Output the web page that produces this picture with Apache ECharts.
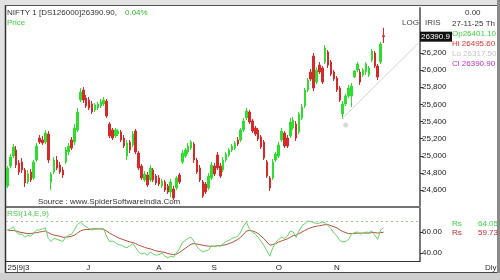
<!DOCTYPE html>
<html><head><meta charset="utf-8">
<script src="https://cdn.jsdelivr.net/npm/echarts@6/dist/echarts.min.js"></script>
<style>html,body{margin:0;padding:0;background:#fff}#c{width:500px;height:280px}</style>
</head><body><div id="c"></div>
<script>
// [open, close, low, high]
const ohlc = [
[24647,24857,24623,24880],[24880,24985,24857,25020],[24997,25102,24974,25137],[25067,24892,24857,25114],
[24915,24810,24775,24950],[24927,24833,24798,24974],[24833,24682,24635,24857],[24693,24787,24670,24833],
[24810,24717,24693,24845],[24740,24927,24717,24950],[24950,25114,24927,25149],[25207,25160,25137,25242],
[25184,25149,25125,25231],[25160,25266,25137,25301],[25254,24950,24915,25289],[24693,24787,24600,24810],
[24810,24950,24787,24985],[24950,24857,24833,24997],[24892,24810,24787,24927],[24833,24775,24740,24868],
[24927,25067,24904,25102],[25044,25114,25009,25149],[25184,25090,25067,25219],[25160,25324,25125,25371],
[25301,25511,25277,25558],[25651,25744,25628,25791],[25768,25651,25616,25803],[25674,25581,25558,25709],
[25651,25558,25534,25686],[25604,25511,25488,25639],[25534,25593,25511,25616],[25558,25604,25534,25628],
[25581,25628,25558,25663],[25604,25651,25581,25686],[25639,25464,25441,25663],[25371,25231,25207,25394],
[25301,25207,25184,25324],[25231,25301,25207,25324],[25254,25289,25231,25312],[25277,25184,25160,25301],
[25207,25114,25090,25242],[24997,25149,24950,25184],[25160,25067,25032,25184],[25125,25254,25102,25289],
[25289,25044,25020,25312],[25032,24857,24833,25055],[24880,24740,24717,24904],[24717,24787,24693,24822],
[24775,24658,24635,24810],[24717,24857,24693,24892],[24833,24717,24693,24857],[24763,24682,24658,24787],
[24740,24670,24647,24775],[24647,24705,24623,24728],[24693,24600,24577,24717],[24647,24577,24553,24670],
[24577,24693,24518,24728],[24612,24507,24483,24647],[24623,24740,24600,24763],[24775,24693,24670,24798],
[24927,25032,24904,25067],[24997,25067,24974,25090],[25044,25114,25020,25149],[25090,25160,25067,25184],
[25137,24950,24915,25160],[24950,24810,24787,24974],[24857,24717,24693,24892],[24693,24530,24507,24717],
[24670,24577,24553,24693],[24623,24763,24600,24798],[24740,24892,24717,24927],[24880,24787,24763,24915],
[25009,24857,24833,25044],[24880,24763,24740,24915],[24833,24950,24810,24985],[24950,25020,24927,25044],
[25009,25067,24985,25090],[25067,25114,25044,25137],[25090,25149,25067,25172],[25184,25137,25114,25219],
[25184,25301,25160,25324],[25301,25406,25277,25441],[25441,25523,25417,25558],[25511,25394,25371,25534],
[25406,25289,25266,25429],[25324,25254,25231,25347],[25301,25196,25172,25324],[25219,25102,25079,25242],
[25160,24974,24950,25184],[24927,24763,24740,24950],[24740,24623,24588,24763],[24740,24927,24717,24962],
[24950,25020,24927,25044],[24997,25125,24974,25160],[25184,25289,25160,25324],[25266,25114,25090,25289],
[25207,25114,25090,25242],[25231,25394,25207,25441],[25324,25417,25301,25453],[25371,25207,25172,25406],
[25277,25488,25254,25511],[25441,25569,25417,25604],[25581,25768,25558,25791],[25768,25885,25744,25908],
[25978,25896,25873,26013],[26165,25791,25756,26200],[25861,26001,25838,26036],[26060,25978,25955,26095],
[26025,25861,25838,26048],[26095,26258,26072,26293],[26212,26060,26025,26235],[26095,25955,25931,26118],
[25978,25896,25873,26001],[25908,25768,25744,25931],[25791,25651,25628,25815],[25488,25604,25429,25639],
[25604,25698,25581,25721],[25698,25791,25674,25826],[25698,25815,25569,25850],[25920,25990,25908,26001],
[26001,26072,25978,26095],[25978,25861,25826,26013],[25943,26001,25920,26025],[25978,26072,25943,26095],
[25943,26025,25920,26048],[26118,26223,26095,26247],[26200,26048,26025,26223],[26048,25920,25885,26072],
[26095,26305,26072,26328],[26401.1,26390.9,26317.5,26495.6]
];
const rsi = [62,63,65,60,58,58,55,57,56,59,62,62,63,64,54,51,54,53,52,51,55,57,58,62,67,69.5,67,65,63,62,
62.5,63,63.5,63,56,51,51.5,50,48,47.5,46,45,47,49,45,41,39,40,38,41,39,38,38.5,40,37,35.5,37,36,40,44,
50,52,54,55,51,46,43,41,42,43,47,46,47,46.5,49,51,52,54,55,56,60,66,69.5,63,60,58,55,51,47,42,
37,45,50,53,55,54,56,61,60,55,61,66,68,70.5,70,69,68,68.5,69.5,69,66,63,59,56,52,50.5,51,53,58,59.5,
60,58,59,60,59.5,61,57,53,62,64.05];
const rsiSignal = [62,61.5,61.5,61,60,59.5,59,58.5,58.5,59,59.5,60,60.5,61,59.5,58,57,56.5,56,55,55,55.5,56,57,59,61,62,62.5,62.5,63,
63,63,63,62.5,61,59,57.5,56,54.5,53.5,52.5,51.5,50.5,50,49,47.5,46.5,45.5,44.5,44,43,42,41.5,41,40.5,39.5,39,38.5,39,40.5,
42.5,44.5,46.5,48.5,49,48.5,48,47.5,47,46.5,46.5,46.5,47,47,47.5,48,49,50,51.5,53,55,58,61,61.5,61,60,58.5,56,53.5,50.5,
47.5,48,49,50.5,51.5,52.5,53.5,55,56.5,57,58.5,60,61.5,63,64,65,65.5,66,66.5,67,67,66,65,64,62,60.5,59.5,58.5,58.5,58.5,
59,59,59,59,59,59.5,59.5,59,59.5,59.73];
const priceTicks = [24600,24800,25000,25200,25400,25600,25800,26000,26200];
const rsiTicks = [40,60];
const rsiLevel = 70;
const dateTickIdx = [0,27,51,70,92,112];
const dateTickText = ['25|9|3','J','A','S','O','N'];
const trendLine = [[115,25441],[141,26317]];
const markerPoint = [[116,25359]];
const lastBar = {date:'27-11-25 Th', open:'26401.10', high:'26495.60', low:'26317.50', close:'26390.90', change:'0.04%', tag:'26390.9'};
const rsiLast = '64.05', sigLast = '59.73';
const totalSlots = 142;

const cats = [];
for (let i = 0; i < totalSlots; i++) cats.push(String(i));

const GREEN = '#2fdc2f', RED = '#d42a2a';
const F = 'Liberation Sans';
const chart = echarts.init(document.getElementById('c'), null, {renderer:'canvas'});

const txt = (x, y, s, color, size, extra) => Object.assign({type:'text', x, y, silent:true,
  style:{text:s, fill:color, font:(size||8)+'px "'+F+'"', textVerticalAlign:'middle'}}, extra||{});

const option = {
  animation:false,
  backgroundColor:'#fff',
  grid:[
    {left:6, top:8, width:414, height:198},
    {left:6, top:208, width:414, height:53}
  ],
  xAxis:[
    {type:'category', gridIndex:0, data:cats, boundaryGap:true, axisLine:{show:false}, axisTick:{show:false}, axisLabel:{show:false}},
    {type:'category', gridIndex:1, data:cats, boundaryGap:true,
     axisLine:{show:true, lineStyle:{color:'#333', width:1}}, axisTick:{show:false},
     axisLabel:{show:true, interval:(i)=>dateTickIdx.indexOf(i)>=0, formatter:(v,i)=>{const k=dateTickIdx.indexOf(i);return k>=0?dateTickText[k]:'';},
       color:'#222', fontSize:8, fontFamily:F, margin:3, align:'left'}}
  ],
  yAxis:[
    {type:'value', gridIndex:0, position:'right', min:24413, max:26726, scale:true,
     axisLine:{show:true, lineStyle:{color:'#777', width:2}},
     axisTick:{show:true, length:3, customValues:priceTicks, lineStyle:{color:'#333'}},
     axisLabel:{show:true, customValues:priceTicks, color:'#222', fontSize:8, fontFamily:F, margin:2},
     splitLine:{show:false}},
    {type:'value', gridIndex:1, position:'right', min:32.4, max:82.9,
     axisLine:{show:true, lineStyle:{color:'#777', width:2}},
     axisTick:{show:true, length:3, customValues:rsiTicks, lineStyle:{color:'#333'}},
     axisLabel:{show:true, customValues:rsiTicks, formatter:(v)=>v.toFixed(2), color:'#222', fontSize:8, fontFamily:F, margin:2},
     splitLine:{show:false}}
  ],
  series:[
    {type:'line', xAxisIndex:0, yAxisIndex:0, data:trendLine, symbol:'none', lineStyle:{color:'#d6d6d6', width:1}, z:1, silent:true},
    {type:'scatter', xAxisIndex:0, yAxisIndex:0, data:markerPoint, symbolSize:5, itemStyle:{color:'#d0d0d0'}, z:1, silent:true},
    {type:'candlestick', xAxisIndex:0, yAxisIndex:0, data:ohlc, barWidth:2,
     itemStyle:{color:GREEN, color0:RED, borderColor:GREEN, borderColor0:RED, borderWidth:1}},
    {type:'line', xAxisIndex:1, yAxisIndex:1, data:rsiSignal, symbol:'none', lineStyle:{color:'#b0503a', width:1},
     markLine:{silent:true, symbol:'none', label:{show:false}, lineStyle:{color:'#9fbf9f', type:[2,3], width:1}, data:[{yAxis:rsiLevel}]}},
    {type:'line', xAxisIndex:1, yAxisIndex:1, data:rsi, symbol:'none', lineStyle:{color:'#63d663', width:1}}
  ]
};
chart.setOption(option);

const yTag = chart.convertToPixel({yAxisIndex:0}, parseFloat(lastBar.close));
const g = [
  // outer frame
  {type:'rect', shape:{x:0,y:0,width:500,height:5}, style:{fill:'#e2e2e2'}, silent:true},
  {type:'rect', shape:{x:0,y:0,width:5,height:280}, style:{fill:'#e2e2e2'}, silent:true},
  {type:'rect', shape:{x:497,y:0,width:3,height:280}, style:{fill:'#8a8a8a'}, silent:true},
  {type:'rect', shape:{x:0,y:273,width:500,height:7}, style:{fill:'#cfcfcf'}, silent:true},
  {type:'line', shape:{x1:5.5,y1:5,x2:5.5,y2:273}, style:{stroke:'#333', lineWidth:1.5}, silent:true},
  {type:'line', shape:{x1:5,y1:5.5,x2:497,y2:5.5}, style:{stroke:'#555', lineWidth:1}, silent:true},
  {type:'line', shape:{x1:5,y1:207,x2:420,y2:207}, style:{stroke:'#444', lineWidth:1.5}, silent:true},
  {type:'line', shape:{x1:5,y1:272.5,x2:497,y2:272.5}, style:{stroke:'#444', lineWidth:1}, silent:true},
  // titles
  txt(7, 13, 'NIFTY 1 [DS126000]26390.90,', '#333', 8),
  txt(125, 13, lastBar.change, '#2fb82f', 8),
  txt(7, 23, 'Price', '#3fd03f', 8),
  txt(38, 202, 'Source : www.SpiderSoftwareIndia.Com', '#333', 8),
  txt(7, 214, 'RSI(14,E,9)', '#4fc84f', 8),
  // right panel
  txt(465, 13, '0.00', '#333', 8),
  txt(402, 23, 'LOG', '#444', 8),
  txt(425, 23, 'IRIS', '#444', 8),
  txt(452, 24, lastBar.date, '#333', 8),
  txt(452, 34, 'Op' + lastBar.open, '#3fd03f', 8),
  txt(452, 44, 'Hi ' + lastBar.high, '#d33', 8),
  txt(452, 54, 'Lo ' + lastBar.low, '#c4c4c4', 8),
  txt(452, 64, 'Cl ' + lastBar.close, '#c030c0', 8),
  {type:'rect', shape:{x:420, y:yTag-5, width:32, height:10}, style:{fill:'#111'}, silent:true, z:10},
  txt(421, yTag, lastBar.tag, '#fff', 8, {z:11}),
  txt(452, 224, 'Rs', '#3fd03f', 8),
  txt(478, 224, rsiLast, '#3fd03f', 8),
  txt(452, 233, 'Rs', '#c03030', 8),
  txt(478, 233, sigLast, '#c03030', 8),
  txt(485, 268, 'Dly', '#333', 8)
];
chart.setOption({graphic:g});
</script></body></html>
